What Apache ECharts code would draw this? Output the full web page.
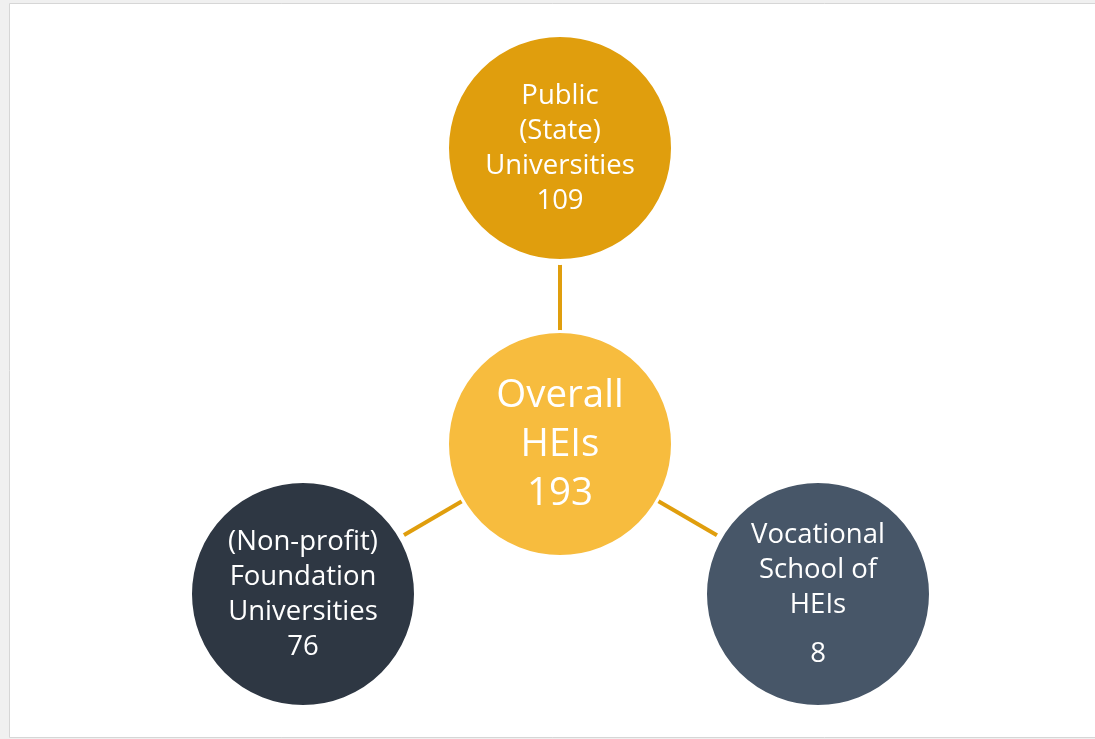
<!DOCTYPE html>
<html>
<head>
<meta charset="utf-8">
<script src="https://cdn.jsdelivr.net/npm/echarts@6/dist/echarts.min.js"></script>
<style>
html,body{margin:0;padding:0;background:#f0f0f0;}
#chart{width:1095px;height:739px;}
</style>
</head>
<body>
<div id="chart"></div>
<script>
// Data
var categories = ['Overall\nHEIs', 'Public\n(State)\nUniversities', '(Non-profit)\nFoundation\nUniversities', 'Vocational\nSchool of\nHEIs'];
var values = [193, 109, 76, 8];
var links = [[0, 1], [0, 2], [0, 3]];

// Layout / styles (not data)
var positions = [[560, 444], [560, 148], [303, 594], [818, 594]];
var colors = ['#F7BC3E', '#E09E0D', '#2E3743', '#475668'];
var borderW = [3, 6, 6, 6];
var radius = 111;
var FONT = '"Open Sans"';

var chart = echarts.init(document.getElementById('chart'), null, {renderer: 'canvas'});

var nodes = categories.map(function (c, i) {
  var lines = c.split('\n');
  var isCenter = i === 0;
  var sty = isCenter ? 'c' : 'o';
  var text = lines.map(function (l) { return '{' + sty + '|' + l + '}'; }).join('\n');
  if (i === 3) text += '\n{s| }';
  text += '\n{' + sty + '|' + values[i] + '}';
  return {
    name: 'n' + i,
    value: positions[i],
    symbolSize: 2 * (radius + borderW[i] / 2),
    itemStyle: {color: colors[i], borderColor: '#ffffff', borderWidth: borderW[i]},
    label: {show: true, position: 'inside', offset: [0, 1], formatter: text}
  };
});

var option = {
  animation: false,
  graphic: [{
    type: 'rect', z: -10,
    shape: {x: 9.5, y: 3.5, width: 1090, height: 734},
    style: {fill: '#ffffff', stroke: '#d6d6d6', lineWidth: 1}
  }],
  grid: {left: 0, right: 0, top: 0, bottom: 0},
  xAxis: {type: 'value', min: 0, max: 1095, show: false},
  yAxis: {type: 'value', min: 0, max: 739, inverse: true, show: false},
  series: [{
    type: 'graph',
    coordinateSystem: 'cartesian2d',
    layout: 'none',
    symbol: 'circle',
    data: nodes,
    links: links.map(function (l) { return {source: 'n' + l[0], target: 'n' + l[1]}; }),
    lineStyle: {color: '#E09E0D', width: 4, opacity: 1, curveness: 0},
    label: {
      color: '#ffffff',
      fontFamily: FONT,
      rich: {
        o: {color: '#ffffff', fontFamily: FONT, fontSize: 27.5, lineHeight: 35},
        s: {color: '#ffffff', fontFamily: FONT, fontSize: 4, lineHeight: 14},
        c: {color: '#ffffff', fontFamily: FONT, fontSize: 38.5, lineHeight: 49}
      }
    },
    emphasis: {disabled: true}
  }]
};
chart.setOption(option);
</script>
</body>
</html>
